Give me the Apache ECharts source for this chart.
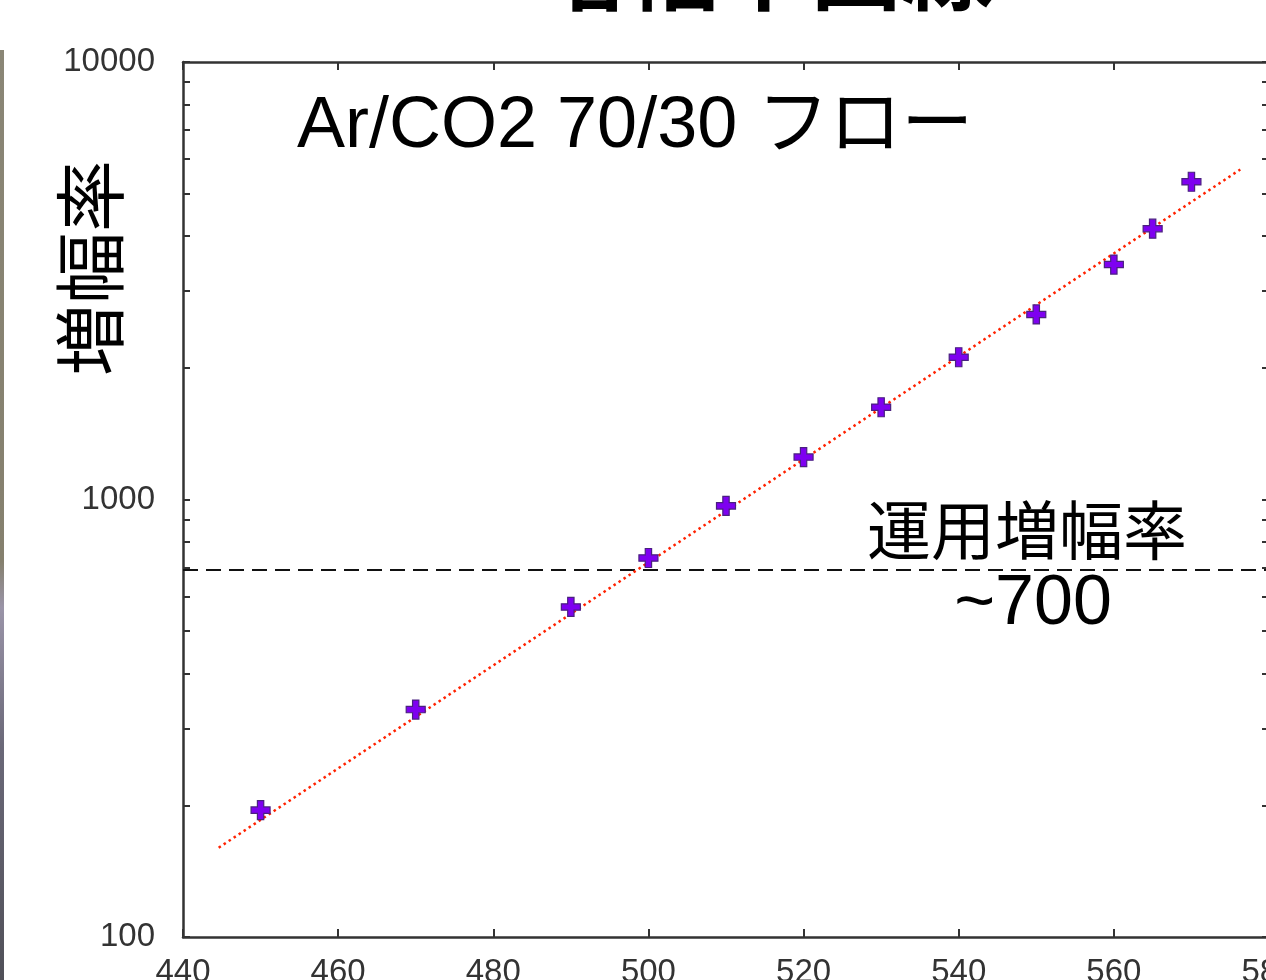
<!DOCTYPE html>
<html><head><meta charset="utf-8">
<script src="https://cdn.jsdelivr.net/npm/echarts@6/dist/echarts.min.js"></script>
<style>html,body{margin:0;padding:0;background:#fff;overflow:hidden}#c{width:1266px;height:980px}</style>
</head><body><div id="c"></div>
<script>
// data
const voltages = [450, 470, 490, 500, 510, 520, 530, 540, 550, 560, 565, 570];
const gains = [195, 331, 568, 735, 967, 1250, 1625, 2114, 2648, 3444, 4159, 5324];
const fitVoltages = [444.6, 576.3];
const fitGains = [160, 5680];
const operatingGain = 690;
const xRange = [440, 580];
const xStep = 20;
const yRange = [100, 10000];
const yTickValues = [100,200,300,400,500,600,700,800,900,1000,2000,3000,4000,5000,6000,7000,8000,9000,10000];
const yLabelValues = [100, 1000, 10000];
const titleText = '増幅率曲線';
const yName = '増幅率';
const gasLabel = 'Ar/CO2 70/30 フロー';
const opLabel1 = '運用増幅率';
const opLabel2 = '~700';

const chart = echarts.init(document.getElementById('c'), null, {renderer: 'canvas'});
const axisLine = {show: true, lineStyle: {color: '#333', width: 2.5}};
const latin = "'Liberation Sans', Arial, sans-serif";
const cjk = "'Liberation Sans', 'Noto Sans CJK JP', sans-serif";

chart.setOption({
  animation: false,
  backgroundColor: '#fff',
  grid: {left: 183, top: 62, right: -3, bottom: 43, containLabel: false, outerBoundsMode: 'none'},
  xAxis: [
    {type: 'value', min: xRange[0], max: xRange[1], interval: xStep, position: 'bottom',
     axisLine: axisLine, splitLine: {show: false},
     axisTick: {inside: true, length: 8, lineStyle: {color: '#333', width: 2}},
     axisLabel: {fontSize: 33, color: '#333', fontFamily: latin, margin: 19, showMaxLabel: true, hideOverlap: false,
       formatter: v => String(v)}},
    {type: 'value', min: xRange[0], max: xRange[1], interval: xStep, position: 'top',
     axisLine: axisLine, splitLine: {show: false},
     axisTick: {inside: true, length: 8, lineStyle: {color: '#333', width: 2}},
     axisLabel: {show: false}}
  ],
  yAxis: [
    {type: 'log', logBase: 10, min: yRange[0], max: yRange[1], position: 'left',
     axisLine: axisLine, splitLine: {show: false},
     axisTick: {inside: true, length: 7, customValues: yTickValues, lineStyle: {color: '#333', width: 2}},
     axisLabel: {fontSize: 33, color: '#333', fontFamily: latin, margin: 28, customValues: yLabelValues,
       formatter: v => String(Math.round(v))}},
    {type: 'log', logBase: 10, min: yRange[0], max: yRange[1], position: 'right',
     axisLine: axisLine, splitLine: {show: false},
     axisTick: {inside: true, length: 7, customValues: yTickValues, lineStyle: {color: '#333', width: 2}},
     axisLabel: {show: false}}
  ],
  series: [
    {type: 'line', name: 'op', xAxisIndex: 0, yAxisIndex: 0, symbol: 'none', silent: true,
     data: [[xRange[0], operatingGain], [xRange[1], operatingGain]],
     lineStyle: {color: '#111', width: 2.2, type: [15, 8]}, z: 2},
    {type: 'line', name: 'fit', symbol: 'none', silent: true,
     data: fitVoltages.map((v, i) => [v, fitGains[i]]),
     lineStyle: {color: '#ff2200', width: 2.5, type: [2.5, 3.5]}, z: 3},
    {type: 'scatter', name: 'data', symbol: 'path://M3,0H6V3H9V6H6V9H3V6H0V3H3Z', symbolSize: 19,
     data: voltages.map((v, i) => [v, gains[i]]),
     itemStyle: {color: '#7e00f0', borderColor: '#4a2080', borderWidth: 1.2, opacity: 1}, z: 4}
  ],
  graphic: [
    {type: 'rect', left: 0, top: 50, shape: {width: 4, height: 930},
     style: {fill: new echarts.graphic.LinearGradient(0, 0, 0, 1, [
       {offset: 0, color: '#8a8676'}, {offset: 0.55, color: '#85806e'},
       {offset: 0.6, color: '#9a94a8'}, {offset: 0.75, color: '#6a6878'}, {offset: 1, color: '#505058'}])}},
    {type: 'text', x: 764, y: 14, style: {text: titleText, fontSize: 92, fontWeight: 'bold',
      fontFamily: "'Noto Sans CJK JP', sans-serif", fill: '#000', align: 'center', verticalAlign: 'bottom'}},
    {type: 'text', x: 90, y: 268, rotation: Math.PI / 2, style: {text: yName, fontSize: 72,
      fontFamily: "'Noto Sans CJK JP', sans-serif", fill: '#000', align: 'center', verticalAlign: 'middle'}},
    {type: 'text', x: 297, y: 127, style: {text: gasLabel, fontSize: 72, fontFamily: cjk,
      fill: '#000', align: 'left', verticalAlign: 'middle'}},
    {type: 'text', x: 1027, y: 530, style: {text: opLabel1, fontSize: 64,
      fontFamily: "'Noto Sans CJK JP', sans-serif", fill: '#000', align: 'center', verticalAlign: 'middle'}},
    {type: 'text', x: 1033, y: 605, style: {text: opLabel2, fontSize: 70, fontFamily: latin,
      fill: '#000', align: 'center', verticalAlign: 'middle'}}
  ]
});
</script></body></html>
